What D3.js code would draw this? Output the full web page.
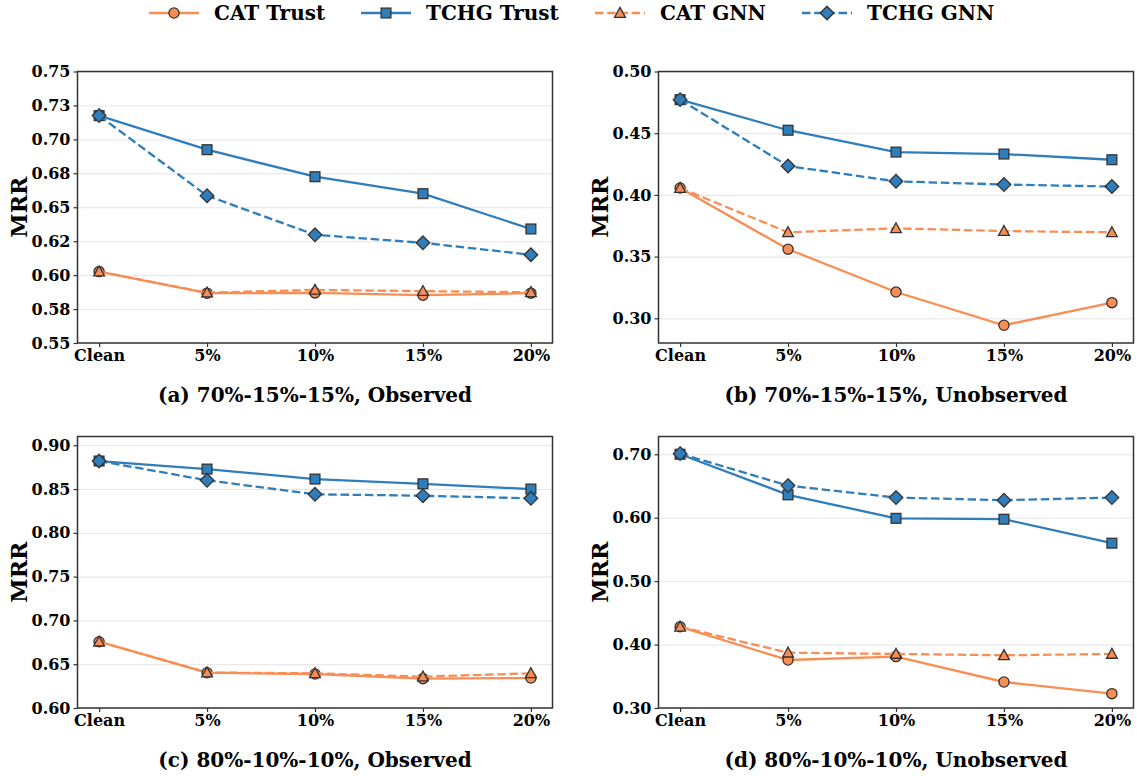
<!DOCTYPE html>
<html>
<head>
<meta charset="utf-8">
<script src="https://d3js.org/d3.v7.min.js"></script>
<title>MRR under noise</title>
<style>
  body { margin: 0; background: #fff; }
  text { font-family: "DejaVu Serif", serif; font-weight: bold; fill: #000; }
</style>
</head>
<body>
<div id="chart"></div>
<script>
// categories on the x axis
const levels = ["Clean", "5%", "10%", "15%", "20%"];

// series names (legend order = draw order)
const seriesNames = ["CAT Trust", "TCHG Trust", "CAT GNN", "TCHG GNN"];

// (a) 70%-15%-15%, Observed
const aCatTrust  = [0.6026, 0.5867, 0.5869, 0.5852, 0.5867];
const aTchgTrust = [0.7175, 0.6924, 0.6725, 0.6600, 0.6340];
const aCatGnn    = [0.6026, 0.5871, 0.5891, 0.5882, 0.5874];
const aTchgGnn   = [0.7175, 0.6585, 0.6297, 0.6238, 0.6150];

// (b) 70%-15%-15%, Unobserved
const bCatTrust  = [0.4056, 0.3560, 0.3213, 0.2944, 0.3127];
const bTchgTrust = [0.4772, 0.4524, 0.4347, 0.4331, 0.4285];
const bCatGnn    = [0.4056, 0.3697, 0.3729, 0.3707, 0.3697];
const bTchgGnn   = [0.4772, 0.4234, 0.4110, 0.4084, 0.4068];

// (c) 80%-10%-10%, Observed
const cCatTrust  = [0.6757, 0.6403, 0.6388, 0.6335, 0.6342];
const cTchgTrust = [0.8820, 0.8728, 0.8614, 0.8560, 0.8500];
const cCatGnn    = [0.6757, 0.6405, 0.6396, 0.6358, 0.6396];
const cTchgGnn   = [0.8820, 0.8600, 0.8440, 0.8424, 0.8394];

// (d) 80%-10%-10%, Unobserved
const dCatTrust  = [0.4280, 0.3757, 0.3810, 0.3410, 0.3226];
const dTchgTrust = [0.7000, 0.6360, 0.5990, 0.5976, 0.5598];
const dCatGnn    = [0.4280, 0.3872, 0.3852, 0.3831, 0.3852];
const dTchgGnn   = [0.7010, 0.6506, 0.6317, 0.6276, 0.6317];

// y tick values and their labels
const aTicks = [0.55, 0.575, 0.60, 0.625, 0.65, 0.675, 0.70, 0.725, 0.75];
const aTickLabels = ["0.55", "0.58", "0.60", "0.62", "0.65", "0.68", "0.70", "0.73", "0.75"];
const bTicks = [0.30, 0.35, 0.40, 0.45, 0.50];
const bTickLabels = ["0.30", "0.35", "0.40", "0.45", "0.50"];
const cTicks = [0.60, 0.65, 0.70, 0.75, 0.80, 0.85, 0.90];
const cTickLabels = ["0.60", "0.65", "0.70", "0.75", "0.80", "0.85", "0.90"];
const dTicks = [0.30, 0.40, 0.50, 0.60, 0.70];
const dTickLabels = ["0.30", "0.40", "0.50", "0.60", "0.70"];

// y ranges
const aDomain = [0.55, 0.75];
const bDomain = [0.28, 0.50];
const cDomain = [0.60, 0.91];
const dDomain = [0.30, 0.728];

const captions = [
  "(a) 70%-15%-15%, Observed",
  "(b) 70%-15%-15%, Unobserved",
  "(c) 80%-10%-10%, Observed",
  "(d) 80%-10%-10%, Unobserved"
];

// ---------------------------------------------------------------
const orange = "#f98e55", blue = "#2f7dba", edge = "#333333";
const styles = [
  { color: orange, dash: null,      marker: "circle" },
  { color: blue,   dash: null,      marker: "square" },
  { color: orange, dash: "8.5,3.7", marker: "triangle" },
  { color: blue,   dash: "8.5,3.7", marker: "diamond" }
];

const panels = [
  { series: [aCatTrust, aTchgTrust, aCatGnn, aTchgGnn], domain: aDomain, ticks: aTicks, labels: aTickLabels },
  { series: [bCatTrust, bTchgTrust, bCatGnn, bTchgGnn], domain: bDomain, ticks: bTicks, labels: bTickLabels },
  { series: [cCatTrust, cTchgTrust, cCatGnn, cTchgGnn], domain: cDomain, ticks: cTicks, labels: cTickLabels },
  { series: [dCatTrust, dTchgTrust, dCatGnn, dTchgGnn], domain: dDomain, ticks: dTicks, labels: dTickLabels }
];

const W = 1137, H = 776;
const lefts = [77.5, 658.5], tops = [71.5, 436.5];
const pw = 475, ph = 271.5;

const svg = d3.select("#chart").append("svg")
  .attr("width", W).attr("height", H);

function drawMarker(g, kind, color) {
  let m;
  if (kind === "circle") {
    m = g.append("circle").attr("r", 5.1);
  } else if (kind === "square") {
    m = g.append("rect").attr("x", -4.9).attr("y", -4.9).attr("width", 9.8).attr("height", 9.8);
  } else if (kind === "triangle") {
    m = g.append("path").attr("d", "M0,-5.6L5.4,4.3L-5.4,4.3Z");
  } else {
    m = g.append("path").attr("d", "M0,-6.8L6.8,0L0,6.8L-6.8,0Z");
  }
  m.attr("fill", color).attr("stroke", edge).attr("stroke-width", 1.3);
}

panels.forEach((p, idx) => {
  const col = idx % 2, row = Math.floor(idx / 2);
  const g = svg.append("g")
    .attr("transform", "translate(" + lefts[col] + "," + tops[row] + ")");

  const x = d3.scalePoint().domain(levels).range([0, pw]).padding(0.2);
  const y = d3.scaleLinear().domain(p.domain).range([ph, 0]);

  // grid
  g.append("g")
    .call(d3.axisLeft(y).tickValues(p.ticks).tickSize(-pw).tickFormat(""))
    .call(s => s.select(".domain").remove())
    .call(s => s.selectAll("line").attr("stroke", "#e5e5e5").attr("stroke-width", 1));

  // series
  p.series.forEach((vals, si) => {
    const st = styles[si];
    const line = d3.line().x((d, i) => x(levels[i])).y(d => y(d));
    g.append("path").datum(vals)
      .attr("fill", "none")
      .attr("stroke", st.color)
      .attr("stroke-width", 2.3)
      .attr("stroke-dasharray", st.dash)
      .attr("d", line);
    vals.forEach((v, i) => {
      const mg = g.append("g").attr("transform", "translate(" + x(levels[i]) + "," + y(v) + ")");
      drawMarker(mg, st.marker, st.color);
    });
  });

  // axes
  const yAxis = g.append("g")
    .call(d3.axisLeft(y).tickValues(p.ticks).tickFormat((d, i) => p.labels[i]).tickSize(4).tickPadding(3));
  const xAxis = g.append("g").attr("transform", "translate(0," + ph + ")")
    .call(d3.axisBottom(x).tickSize(4).tickPadding(3));
  [yAxis, xAxis].forEach(a => {
    a.select(".domain").remove();
    a.selectAll("line").attr("stroke", edge).attr("stroke-width", 1.2);
    a.selectAll("text").style("font-size", "16px").attr("fill", "#000");
  });

  // frame
  g.append("rect").attr("width", pw).attr("height", ph)
    .attr("fill", "none").attr("stroke", edge).attr("stroke-width", 1.5);

  // y label
  g.append("text")
    .attr("transform", "translate(-59," + (ph / 2) + ") rotate(-90)")
    .attr("text-anchor", "middle")
    .attr("dominant-baseline", "central")
    .style("font-size", "22px")
    .text("MRR");

  // caption
  g.append("text")
    .attr("x", pw / 2).attr("y", ph + 58.5)
    .attr("text-anchor", "middle")
    .style("font-size", "20px")
    .text(captions[idx]);
});

// legend
const legendX = [149, 361, 595, 802];
seriesNames.forEach((name, i) => {
  const st = styles[i];
  const lg = svg.append("g").attr("transform", "translate(" + legendX[i] + ",13)");
  lg.append("line").attr("x1", 0).attr("x2", 50)
    .attr("stroke", st.color).attr("stroke-width", 2.3)
    .attr("stroke-dasharray", st.dash);
  drawMarker(lg.append("g").attr("transform", "translate(25,0)"), st.marker, st.color);
  lg.append("text").attr("x", 65).attr("y", 0)
    .attr("dominant-baseline", "central")
    .style("font-size", "20px")
    .text(name);
});
</script>
</body>
</html>
